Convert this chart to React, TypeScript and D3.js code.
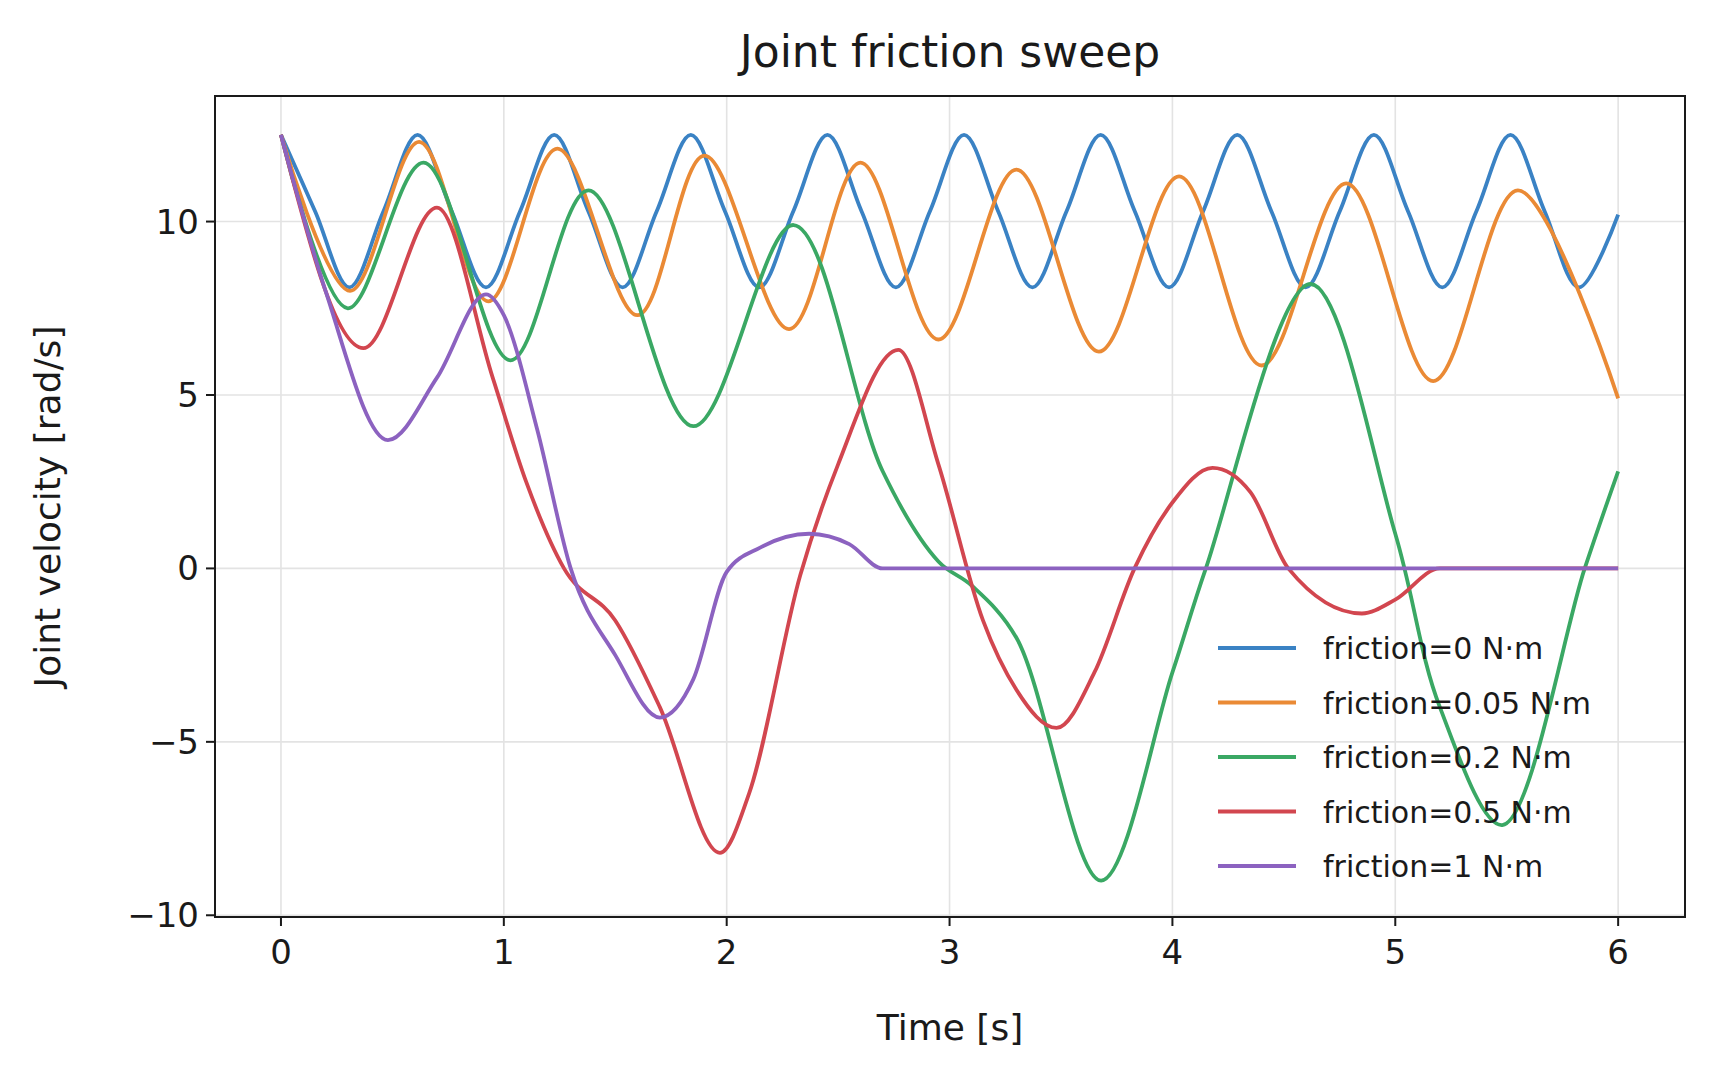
import React from "react";
import * as d3 from "d3";

const names = ["friction=0 N·m","friction=0.05 N·m","friction=0.2 N·m","friction=0.5 N·m","friction=1 N·m"];
const colors = ["#3a82c4","#ea8a35","#3aa864","#d2464f","#8c62c0"];
const xTicks = [0,1,2,3,4,5,6];
const yTicks = [-10,-5,0,5,10];

const blueT = [0,0.153,0.307,0.46,0.613,0.766,0.92,1.073,1.226,1.379,1.533,1.686,1.839,1.992,2.146,2.299,2.452,2.605,2.759,2.912,3.065,3.218,3.372,3.525,3.678,3.831,3.985,4.138,4.291,4.444,4.598,4.751,4.904,5.057,5.211,5.364,5.517,5.67,5.824,6.0];
const blueV = [12.5,10.3,8.1,10.3,12.5,10.3,8.1,10.3,12.5,10.3,8.1,10.3,12.5,10.3,8.1,10.3,12.5,10.3,8.1,10.3,12.5,10.3,8.1,10.3,12.5,10.3,8.1,10.3,12.5,10.3,8.1,10.3,12.5,10.3,8.1,10.3,12.5,10.3,8.1,10.2];
const orangeT = [0,0.31,0.62,0.93,1.24,1.6,1.9,2.28,2.6,2.95,3.3,3.67,4.03,4.4,4.78,5.17,5.55,6.0];
const orangeV = [12.5,8.0,12.3,7.7,12.1,7.3,11.9,6.9,11.7,6.6,11.5,6.25,11.3,5.85,11.1,5.4,10.9,4.9];
const greenT = [0,0.3,0.64,1.03,1.38,1.85,2.3,2.7,2.95,3.1,3.3,3.68,4.0,4.15,4.62,5.0,5.2,5.48,5.85,6.0];
const greenV = [12.5,7.5,11.7,6.0,10.9,4.1,9.9,2.8,0.2,-0.5,-2.0,-9.0,-3.0,0,8.2,1.0,-4.0,-7.4,0,2.8];
const redT = [0,0.37,0.7,0.95,1.1,1.27,1.5,1.7,1.97,2.1,2.33,2.5,2.77,2.95,3.15,3.3,3.48,3.65,3.83,4.0,4.18,4.35,4.52,4.85,5.0,5.2,6.0];
const redV = [12.5,6.35,10.4,5.5,2.5,0,-1.5,-4.0,-8.2,-6.5,-0.2,3.0,6.3,3.0,-1.5,-3.5,-4.6,-3.0,0,1.9,2.9,2.2,0,-1.3,-0.9,0,0];
const purpleT = [0,0.2,0.48,0.7,0.92,1.0,1.15,1.3,1.5,1.7,1.85,2.0,2.15,2.37,2.55,2.7,6.0];
const purpleV = [12.5,8.0,3.7,5.5,7.9,7.3,4.0,0,-2.5,-4.3,-3.2,-0.1,0.6,1.0,0.7,0,0];

const seriesT = [blueT, orangeT, greenT, redT, purpleT];
const seriesV = [blueV, orangeV, greenV, redV, purpleV];

const L = 215, R = 1685, T = 96, B = 917;
const FONT = "DejaVu Sans, sans-serif";

export default function App() {
  const x = d3.scaleLinear().domain([-0.296, 6.3]).range([L, R]);
  const y = d3.scaleLinear().domain([-10.05, 13.62]).range([B, T]);
  const smooth = d3.line<[number, number]>().x(d => x(d[0])).y(d => y(d[1])).curve(d3.curveCatmullRom.alpha(0.5));
  const mono = d3.line<[number, number]>().x(d => x(d[0])).y(d => y(d[1])).curve(d3.curveMonotoneX);
  return (
    <svg width={1714} height={1080} style={{ display: "block", position: "absolute", left: 0, top: 0 }} fontFamily={FONT}>
      <rect width={1714} height={1080} fill="white" />
      {xTicks.map(t => <line key={"gx"+t} x1={x(t)} x2={x(t)} y1={T} y2={B} stroke="#e3e3e3" strokeWidth={1.6} />)}
      {yTicks.map(t => <line key={"gy"+t} x1={L} x2={R} y1={y(t)} y2={y(t)} stroke="#e3e3e3" strokeWidth={1.6} />)}
      <clipPath id="c"><rect x={L} y={T} width={R-L} height={B-T} /></clipPath>
      <g clipPath="url(#c)">
        {seriesT.map((ts, i) => {
          const gen = i < 3 ? smooth : mono;
          return <path key={i} d={gen(ts.map((t, j) => [t, seriesV[i][j]]) as [number, number][]) || ""} fill="none" stroke={colors[i]} strokeWidth={3.8} strokeLinejoin="round" />;
        })}
      </g>
      <rect x={L} y={T} width={R-L} height={B-T} fill="none" stroke="#1a1a1a" strokeWidth={2} />
      {xTicks.map(t => (
        <g key={"tx"+t}>
          <line x1={x(t)} x2={x(t)} y1={B} y2={B+9} stroke="#1a1a1a" strokeWidth={2} />
          <text x={x(t)} y={B+47} textAnchor="middle" fontSize={34} fill="#1a1a1a">{t}</text>
        </g>
      ))}
      {yTicks.map(t => (
        <g key={"ty"+t}>
          <line x1={L-9} x2={L} y1={y(t)} y2={y(t)} stroke="#1a1a1a" strokeWidth={2} />
          <text x={L-16} y={y(t)+12} textAnchor="end" fontSize={34} fill="#1a1a1a">{t < 0 ? "\u2212" + Math.abs(t) : t}</text>
        </g>
      ))}
      <text x={(L+R)/2} y={1040} textAnchor="middle" fontSize={36} fill="#1a1a1a">Time [s]</text>
      <text transform={`translate(60,${(T+B)/2}) rotate(-90)`} textAnchor="middle" fontSize={36} fill="#1a1a1a">Joint velocity [rad/s]</text>
      <text x={(L+R)/2} y={67} textAnchor="middle" fontSize={44} fill="#1a1a1a">Joint friction sweep</text>
      {names.map((n, i) => {
        const yy = 648 + i * 54.5;
        return (
          <g key={n}>
            <line x1={1218} x2={1296} y1={yy} y2={yy} stroke={colors[i]} strokeWidth={3.8} />
            <text x={1323} y={yy+11} fontSize={30} fill="#1a1a1a">{n}</text>
          </g>
        );
      })}
    </svg>
  );
}
